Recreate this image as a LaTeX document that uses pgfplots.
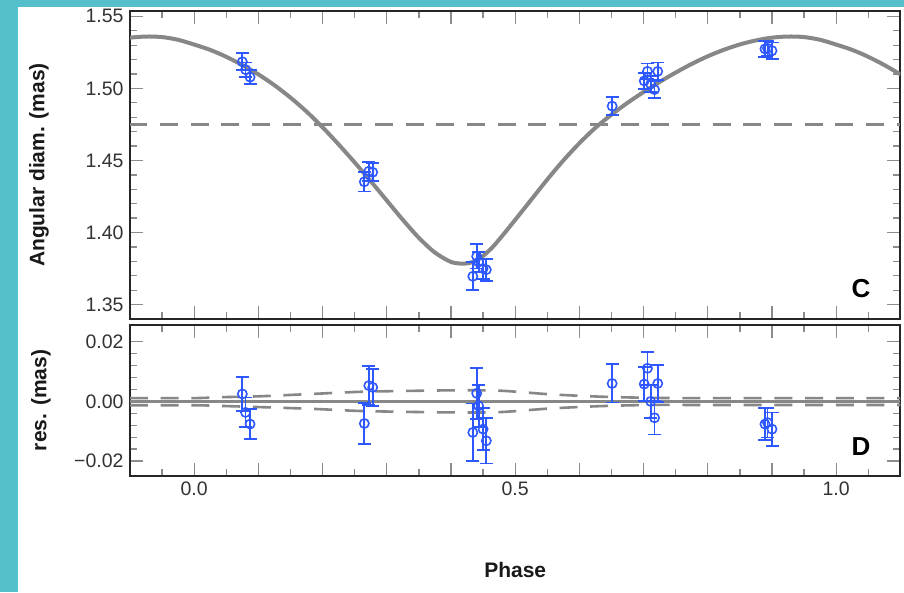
\documentclass[border=0pt]{standalone}
\usepackage{fontspec}
\setmainfont{Liberation Sans}
\usepackage{pgfplots}
\usepackage{pgfplotstable}
\pgfplotsset{compat=1.18}
\definecolor{bgcyan}{HTML}{55C0CC}
\definecolor{ptblue}{HTML}{2E58FF}
\definecolor{fitgray}{HTML}{878787}

\pgfplotstableread{
ph d err res
0.075 1.5185 0.0058 0.0025
0.080 1.5130 0.0050 -0.0037
0.087 1.5078 0.0050 -0.0076
0.265 1.4352 0.0068 -0.0074
0.272 1.4425 0.0065 0.0053
0.278 1.4418 0.0062 0.0047
0.434 1.3696 0.0097 -0.0104
0.440 1.3835 0.0085 0.0027
0.443 1.3795 0.0070 -0.0015
0.450 1.3750 0.0070 -0.0093
0.455 1.3742 0.0076 -0.0132
0.651 1.4877 0.0064 0.0060
0.701 1.5052 0.0057 0.0058
0.706 1.5118 0.0055 0.0111
0.711 1.5030 0.0055 0.0000
0.717 1.4992 0.0056 -0.0055
0.722 1.5118 0.0062 0.0060
0.889 1.5274 0.0054 -0.0076
0.893 1.5278 0.0050 -0.0071
0.900 1.5262 0.0056 -0.0093
}\datatab

\pgfplotstableread{
ph f
-0.100 1.5352
-0.075 1.5360
-0.050 1.5356
-0.025 1.5337
0.000 1.5304
0.025 1.5267
0.050 1.5219
0.075 1.5162
0.100 1.5097
0.125 1.5022
0.150 1.4936
0.175 1.4839
0.200 1.4730
0.225 1.4611
0.250 1.4486
0.275 1.4356
0.300 1.4222
0.325 1.4088
0.350 1.3963
0.375 1.3861
0.400 1.3796
0.420 1.3784
0.435 1.3797
0.450 1.3838
0.465 1.3900
0.480 1.3978
0.500 1.4088
0.525 1.4228
0.550 1.4368
0.575 1.4500
0.600 1.4620
0.625 1.4727
0.650 1.4818
0.675 1.4900
0.700 1.4975
0.725 1.5045
0.750 1.5110
0.775 1.5170
0.800 1.5223
0.825 1.5268
0.850 1.5305
0.875 1.5333
0.900 1.5352
0.925 1.5360
0.950 1.5356
0.975 1.5337
1.000 1.5304
1.025 1.5267
1.050 1.5219
1.075 1.5162
1.100 1.5097
}\fittab

\pgfplotstableread{
ph up lo
-0.100 0.0011 -0.0013
0.000 0.0011 -0.0013
0.039 0.0014 -0.0015
0.100 0.0017 -0.0019
0.184 0.0025 -0.0025
0.257 0.0032 -0.0032
0.330 0.0035 -0.0035
0.402 0.0037 -0.0037
0.475 0.0036 -0.0036
0.553 0.0024 -0.0024
0.631 0.0016 -0.0016
0.709 0.0012 -0.0012
0.800 0.0011 -0.0012
1.100 0.0011 -0.0012
}\envtab

\pgfplotsset{
  common/.style={
    scale only axis,
    width=770.4pt,
    xmin=-0.1, xmax=1.1,
    xtick={-0.1,0,0.1,0.2,0.3,0.4,0.5,0.6,0.7,0.8,0.9,1.0,1.1},
    minor x tick num=1,
    tick align=inside,
    xtick pos=both, ytick pos=both,
    major tick length=13pt,
    minor tick length=7pt,
    every tick/.style={black!45, line width=1.3pt},
    axis line style={black!85, line width=2pt},
    ticklabel style={font=\fontsize{19.5}{20}\selectfont, text=black!80},
    label style={font=\fontsize{21}{22}\selectfont\bfseries, text=black!90},
    scaled y ticks=false, scaled x ticks=false,
    clip=true,
  },
  errplot/.style={
    only marks, ptblue, mark=o,
    mark size=4.6pt,
    mark options={line width=1.6pt, ptblue},
    error bars/.cd, y dir=both, y explicit,
    error bar style={line width=1.8pt, ptblue},
    error mark=-,
    error mark options={rotate=90, line width=1.8pt, mark size=6.5pt, ptblue},
  },
}

\begin{document}
\begin{tikzpicture}
\fill[bgcyan] (0pt,0pt) rectangle (904pt,592pt);
\fill[white] (18pt,0pt) rectangle (904pt,585pt);

\begin{axis}[common,
  at={(130pt,273pt)}, anchor=south west,
  height=308pt,
  ymin=1.34, ymax=1.5537,
  ytick={1.35,1.40,1.45,1.50,1.55},
  yticklabels={1.35,1.40,1.45,1.50,1.55},
  minor y tick num=4,
  xticklabels={},
  yticklabel style={xshift=-3pt},
  ylabel={Angular diam. (mas)},
  ylabel style={at={(axis description cs:-0.118,0.5)}, anchor=center},
]
\addplot[fitgray, line width=2.6pt, dash pattern=on 18pt off 12.7pt, dash phase=0.7pt] coordinates {(-0.1,1.475) (1.1,1.475)};
\addplot[fitgray, line width=4pt, smooth] table[x=ph, y=f] {\fittab};
\addplot[errplot] table[x=ph, y=d, y error=err] {\datatab};
\node[anchor=base east, font=\fontsize{26}{26}\selectfont\bfseries, text=black] at (rel axis cs:0.9657,0.0714) {C};
\end{axis}

\begin{axis}[common,
  at={(130pt,116pt)}, anchor=south west,
  height=151pt,
  ymin=-0.025, ymax=0.0256,
  ytick={-0.02,0,0.02},
  yticklabels={−0.02,0.00,0.02},
  minor y tick num=4,
  xticklabels={,0.0,,,,,0.5,,,,,1.0,},
  xticklabel style={yshift=-2pt},
  yticklabel style={xshift=-3pt},
  ylabel={res. (mas)},
  ylabel style={at={(axis description cs:-0.1155,0.5)}, anchor=center},
  xlabel={Phase},
  xlabel style={at={(axis description cs:0.5,0)}, anchor=center, yshift=-94pt},
]
\addplot[fitgray, line width=2.6pt] coordinates {(-0.1,0) (1.1,0)};
\addplot[fitgray, line width=2.6pt, smooth, dash pattern=on 18pt off 12.7pt] table[x=ph, y=up] {\envtab};
\addplot[fitgray, line width=2.6pt, smooth, dash pattern=on 18pt off 12.7pt] table[x=ph, y=lo] {\envtab};
\addplot[errplot] table[x=ph, y=res, y error=err] {\datatab};
\node[anchor=base east, font=\fontsize{26}{26}\selectfont\bfseries, text=black] at (rel axis cs:0.9657,0.139) {D};
\end{axis}
\pgfresetboundingbox
\useasboundingbox (0pt,0pt) rectangle (904pt,592pt);
\end{tikzpicture}
\end{document}
